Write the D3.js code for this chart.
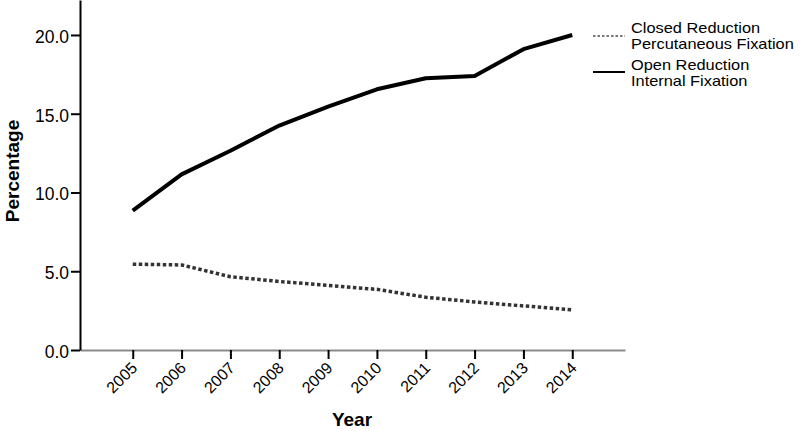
<!DOCTYPE html>
<html>
<head>
<meta charset="utf-8">
<script src="https://cdn.jsdelivr.net/npm/d3@7"></script>
<style>
  html, body { margin: 0; padding: 0; background: #fff; }
  svg { display: block; font-family: "Liberation Sans", Arial, sans-serif; }
</style>
</head>
<body>
<svg id="chart" width="800" height="431"></svg>
<script>
const years = ["2005","2006","2007","2008","2009","2010","2011","2012","2013","2014"];
const closedReduction = [5.45, 5.4, 4.65, 4.35, 4.1, 3.85, 3.35, 3.05, 2.8, 2.55];
const openReduction = [8.85, 11.15, 12.65, 14.25, 15.45, 16.55, 17.25, 17.4, 19.1, 20.0];
const yTicks = [0, 5, 10, 15, 20];
const legendLabels = [["Closed Reduction", "Percutaneous Fixation"], ["Open Reduction", "Internal Fixation"]];

const svg = d3.select("#chart");
const x = d3.scalePoint().domain(years).range([80, 625]).padding(1.08);
const y = d3.scaleLinear().domain([0, 22.22]).range([350, 0]);

// X axis
const xAxis = svg.append("g").attr("transform", "translate(0,350)")
  .call(d3.axisBottom(x).tickSize(9).tickSizeOuter(0));
xAxis.select(".domain").attr("stroke", "#8a8a8a").attr("stroke-width", 2);
xAxis.selectAll(".tick line").attr("stroke", "#000").attr("stroke-width", 2);
xAxis.selectAll(".tick text")
  .attr("font-size", 16).attr("fill", "#000")
  .attr("text-anchor", "end")
  .attr("transform", "translate(5,19) rotate(-45)")
  .attr("x", 0).attr("y", 0).attr("dy", 0);

// Y axis
const yAxis = svg.append("g").attr("transform", "translate(80,0)")
  .call(d3.axisLeft(y).tickValues(yTicks).tickFormat(d3.format(".1f")).tickSize(9).tickSizeOuter(0));
yAxis.select(".domain").attr("stroke", "#000").attr("stroke-width", 2);
yAxis.selectAll(".tick line").attr("stroke", "#000").attr("stroke-width", 2);
yAxis.selectAll(".tick text").attr("font-size", 17.5).attr("fill", "#000").attr("x", -11).attr("dy", "0.42em");

// Lines
const line = d3.line().x((d, i) => x(years[i])).y(d => y(d));
svg.append("path").datum(closedReduction)
  .attr("d", line).attr("fill", "none")
  .attr("stroke", "#333").attr("stroke-width", 3.5)
  .attr("stroke-dasharray", "3.5,2.5");
svg.append("path").datum(openReduction)
  .attr("d", line).attr("fill", "none")
  .attr("stroke", "#000").attr("stroke-width", 4).attr("stroke-linejoin", "round");

// Axis titles
svg.append("text").attr("x", 352).attr("y", 426).attr("text-anchor", "middle")
  .attr("font-size", 19).attr("font-weight", "bold").text("Year");
svg.append("text").attr("transform", "translate(18.5,171) rotate(-90)").attr("text-anchor", "middle")
  .attr("font-size", 19).attr("font-weight", "bold").text("Percentage");

// Legend
const lg = svg.append("g");
lg.append("line").attr("x1", 593).attr("x2", 625).attr("y1", 36).attr("y2", 36)
  .attr("stroke", "#777").attr("stroke-width", 2).attr("stroke-dasharray", "2.5,2");
lg.append("line").attr("x1", 593).attr("x2", 625).attr("y1", 72).attr("y2", 72)
  .attr("stroke", "#000").attr("stroke-width", 2);
const firstBaselines = [33, 70];
legendLabels.forEach((lines, i) => {
  lines.forEach((s, j) => {
    lg.append("text")
      .attr("transform", `translate(631,${firstBaselines[i] + j * 16}) scale(1.17,1)`)
      .attr("font-size", 14).attr("fill", "#000").text(s);
  });
});
</script>
</body>
</html>
